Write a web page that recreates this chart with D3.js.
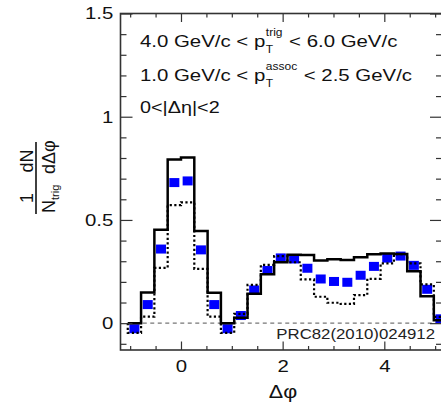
<!DOCTYPE html>
<html>
<head>
<meta charset="utf-8">
<script src="https://cdn.jsdelivr.net/npm/d3@7"></script>
<style>
    body { margin: 0; background: #fff; }
    svg { display: block; font-family: "Liberation Sans", Arial, Helvetica, sans-serif; }
</style>
</head>
<body>
<div id="chart"></div>
<script>
// bins are pi/12 wide, starting at -pi/3 (24 bins over 2pi)
const binWidth = Math.PI / 12;
const firstEdge = -Math.PI / 3;

// blue points (data)
const dataValues = [-0.027, 0.090, 0.359, 0.681, 0.689, 0.355, 0.090, -0.027,
    0.037, 0.161, 0.255, 0.316, 0.311, 0.266, 0.214, 0.202,
    0.198, 0.232, 0.275, 0.315, 0.325, 0.280, 0.164, 0.021];

// solid histogram
const solidValues = [0.000, 0.148, 0.453, 0.793, 0.803, 0.447, 0.147, 0.000,
    0.026, 0.142, 0.237, 0.295, 0.331, 0.330, 0.303, 0.310,
    0.306, 0.319, 0.334, 0.337, 0.335, 0.251, 0.130, 0.014];

// dotted histogram
const dottedValues = [-0.047, 0.032, 0.268, 0.572, 0.585, 0.263, 0.032, -0.047,
    0.045, 0.185, 0.282, 0.325, 0.295, 0.212, 0.128, 0.099,
    0.093, 0.136, 0.215, 0.290, 0.334, 0.290, 0.188, 0.030];

const xTickLabels = [0, 2, 4];
const xMinorTicks = [-1, -0.5, 0.5, 1, 1.5, 2.5, 3, 3.5, 4.5, 5];
const yTickLabels = [0, 0.5, 1, 1.5];
const yMinorTicks = [-0.1, 0.1, 0.2, 0.3, 0.4, 0.6, 0.7, 0.8, 0.9, 1.1, 1.2, 1.3, 1.4];

const cutLines = [
    { before: '4.0 GeV/c < p', sub: 'T', sup: 'trig', after: '< 6.0 GeV/c' },
    { before: '1.0 GeV/c < p', sub: 'T', sup: 'assoc', after: '< 2.5 GeV/c' }
];
const etaText = '0<|\u0394\u03B7|<2';
const refText = 'PRC82(2010)024912';

const stretch = 1.2;

function drawChart() {
    const margin = { top: 13.5, right: -1, bottom: 55, left: 120.5 };
    const width = 441 - margin.left - margin.right;
    const height = 405 - margin.top - margin.bottom;

    const svg = d3.select('#chart').append('svg')
        .attr('width', 441)
        .attr('height', 405);

    const g = svg.append('g')
        .attr('transform', `translate(${margin.left},${margin.top})`);

    const x = d3.scaleLinear().domain([-1.19, 5.135]).range([0, width]);
    const y = d3.scaleLinear().domain([-0.13, 1.5]).range([height, 0]);

    g.append('clipPath').attr('id', 'plotClip')
        .append('rect').attr('width', width).attr('height', height);

    const plot = g.append('g').attr('clip-path', 'url(#plotClip)');

    // zero line
    plot.append('line')
        .attr('x1', x(firstEdge)).attr('x2', x(firstEdge + binWidth * dataValues.length))
        .attr('y1', y(0)).attr('y2', y(0))
        .attr('stroke', '#777').attr('stroke-width', 1.3)
        .attr('stroke-dasharray', '4,3.5');

    const stepPoints = values => {
        const pts = [[firstEdge, 0]];
        values.forEach((v, i) => {
            pts.push([firstEdge + i * binWidth, v]);
            pts.push([firstEdge + (i + 1) * binWidth, v]);
        });
        pts.push([firstEdge + values.length * binWidth, 0]);
        return pts;
    };
    const line = d3.line().x(d => x(d[0])).y(d => y(d[1]));

    // blue markers
    plot.selectAll('.point')
        .data(dataValues)
        .enter()
        .append('rect')
        .attr('class', 'point')
        .attr('x', (d, i) => x(firstEdge + (i + 0.5) * binWidth) - 5)
        .attr('y', d => y(d) - 4.5)
        .attr('width', 10)
        .attr('height', 9)
        .attr('fill', '#0000ff');

    plot.append('path')
        .attr('d', line(stepPoints(dottedValues)))
        .attr('fill', 'none')
        .attr('stroke', '#000')
        .attr('stroke-width', 2.2)
        .attr('stroke-dasharray', '2.2,2.4');

    plot.append('path')
        .attr('d', line(stepPoints(solidValues)))
        .attr('fill', 'none')
        .attr('stroke', '#000')
        .attr('stroke-width', 2.5);

    // Axes (ticks point inward)
    const styleAxis = sel => {
        sel.select('.domain').remove();
        sel.selectAll('line').attr('stroke', '#333').attr('stroke-width', 1.2);
        sel.attr('font-size', 17).attr('font-family', null);
        sel.selectAll('text').attr('fill', '#111');
    };

    g.append('g').attr('transform', `translate(0,${height})`)
        .call(d3.axisBottom(x).tickValues(xMinorTicks).tickSize(-4).tickFormat(''))
        .call(styleAxis);
    g.append('g').attr('transform', `translate(0,${height})`)
        .call(d3.axisBottom(x).tickValues(xTickLabels).tickSize(-8.5).tickPadding(10).tickFormat(d => String(d)))
        .call(styleAxis)
        .selectAll('text').attr('transform', `scale(${stretch},1)`);

    g.append('g')
        .call(d3.axisTop(x).tickValues(xMinorTicks).tickSize(-4).tickFormat(''))
        .call(styleAxis);
    g.append('g')
        .call(d3.axisTop(x).tickValues(xTickLabels).tickSize(-8.5).tickFormat(''))
        .call(styleAxis);

    g.append('g')
        .call(d3.axisLeft(y).tickValues(yMinorTicks).tickSize(-6).tickFormat(''))
        .call(styleAxis);
    g.append('g')
        .call(d3.axisLeft(y).tickValues(yTickLabels).tickSize(-12).tickPadding(6).tickFormat(d => String(d)))
        .call(styleAxis)
        .selectAll('text').attr('transform', `scale(${stretch},1)`);

    g.append('g').attr('transform', `translate(${width},0)`)
        .call(d3.axisRight(y).tickValues(yMinorTicks).tickSize(-6).tickFormat(''))
        .call(styleAxis);
    g.append('g').attr('transform', `translate(${width},0)`)
        .call(d3.axisRight(y).tickValues(yTickLabels).tickSize(-12).tickFormat(''))
        .call(styleAxis);

    // frame
    g.append('rect')
        .attr('width', width).attr('height', height)
        .attr('fill', 'none').attr('stroke', '#333').attr('stroke-width', 1.6);

    // cut labels
    cutLines.forEach((c, i) => {
        const lg = svg.append('g')
            .attr('transform', `translate(140,${47 + i * 33.5}) scale(${stretch},1)`)
            .attr('fill', '#111');
        const t1 = lg.append('text').attr('font-size', 17).text(c.before);
        const w1 = t1.node().getComputedTextLength() + 0.5;
        const ts = lg.append('text').attr('font-size', 10).attr('x', w1).attr('y', 6).text(c.sub);
        const tp = lg.append('text').attr('font-size', 10).attr('x', w1).attr('y', -11).text(c.sup);
        const w2 = Math.max(ts.node().getComputedTextLength(), tp.node().getComputedTextLength());
        lg.append('text').attr('font-size', 17).attr('x', w1 + w2 + 5.5).text(c.after);
    });

    svg.append('text')
        .attr('transform', `translate(140,113) scale(${stretch},1)`)
        .attr('font-size', 16.5).attr('fill', '#111')
        .text(etaText);

    svg.append('text')
        .attr('transform', `translate(435,338.5) scale(${stretch},1)`)
        .attr('text-anchor', 'end')
        .attr('font-size', 14).attr('fill', '#222')
        .text(refText);

    // x title
    svg.append('text')
        .attr('transform', `translate(283,398) scale(${stretch},1)`)
        .attr('text-anchor', 'middle')
        .attr('font-size', 18).attr('fill', '#111')
        .text('\u0394\u03C6');

    // y title: 1/N_trig dN/dDphi
    const yt = svg.append('g')
        .attr('transform', 'translate(36,178) rotate(-90)')
        .attr('fill', '#111');
    yt.append('line')
        .attr('x1', -36).attr('x2', 36).attr('y1', 0).attr('y2', 0)
        .attr('stroke', '#111').attr('stroke-width', 1.6);
    yt.append('text').attr('x', -20).attr('y', -3).attr('text-anchor', 'middle')
        .attr('font-size', 18).text('1');
    yt.append('text').attr('x', 17).attr('y', -3).attr('text-anchor', 'middle')
        .attr('font-size', 18).text('dN');
    const den = yt.append('text').attr('x', -35).attr('y', 19).attr('font-size', 18);
    den.append('tspan').text('N');
    den.append('tspan').attr('font-size', 11).attr('dy', 4).text('trig');
    yt.append('text').attr('x', 4).attr('y', 19).attr('font-size', 18).text('d\u0394\u03C6');
}

drawChart();
</script>
</body>
</html>
